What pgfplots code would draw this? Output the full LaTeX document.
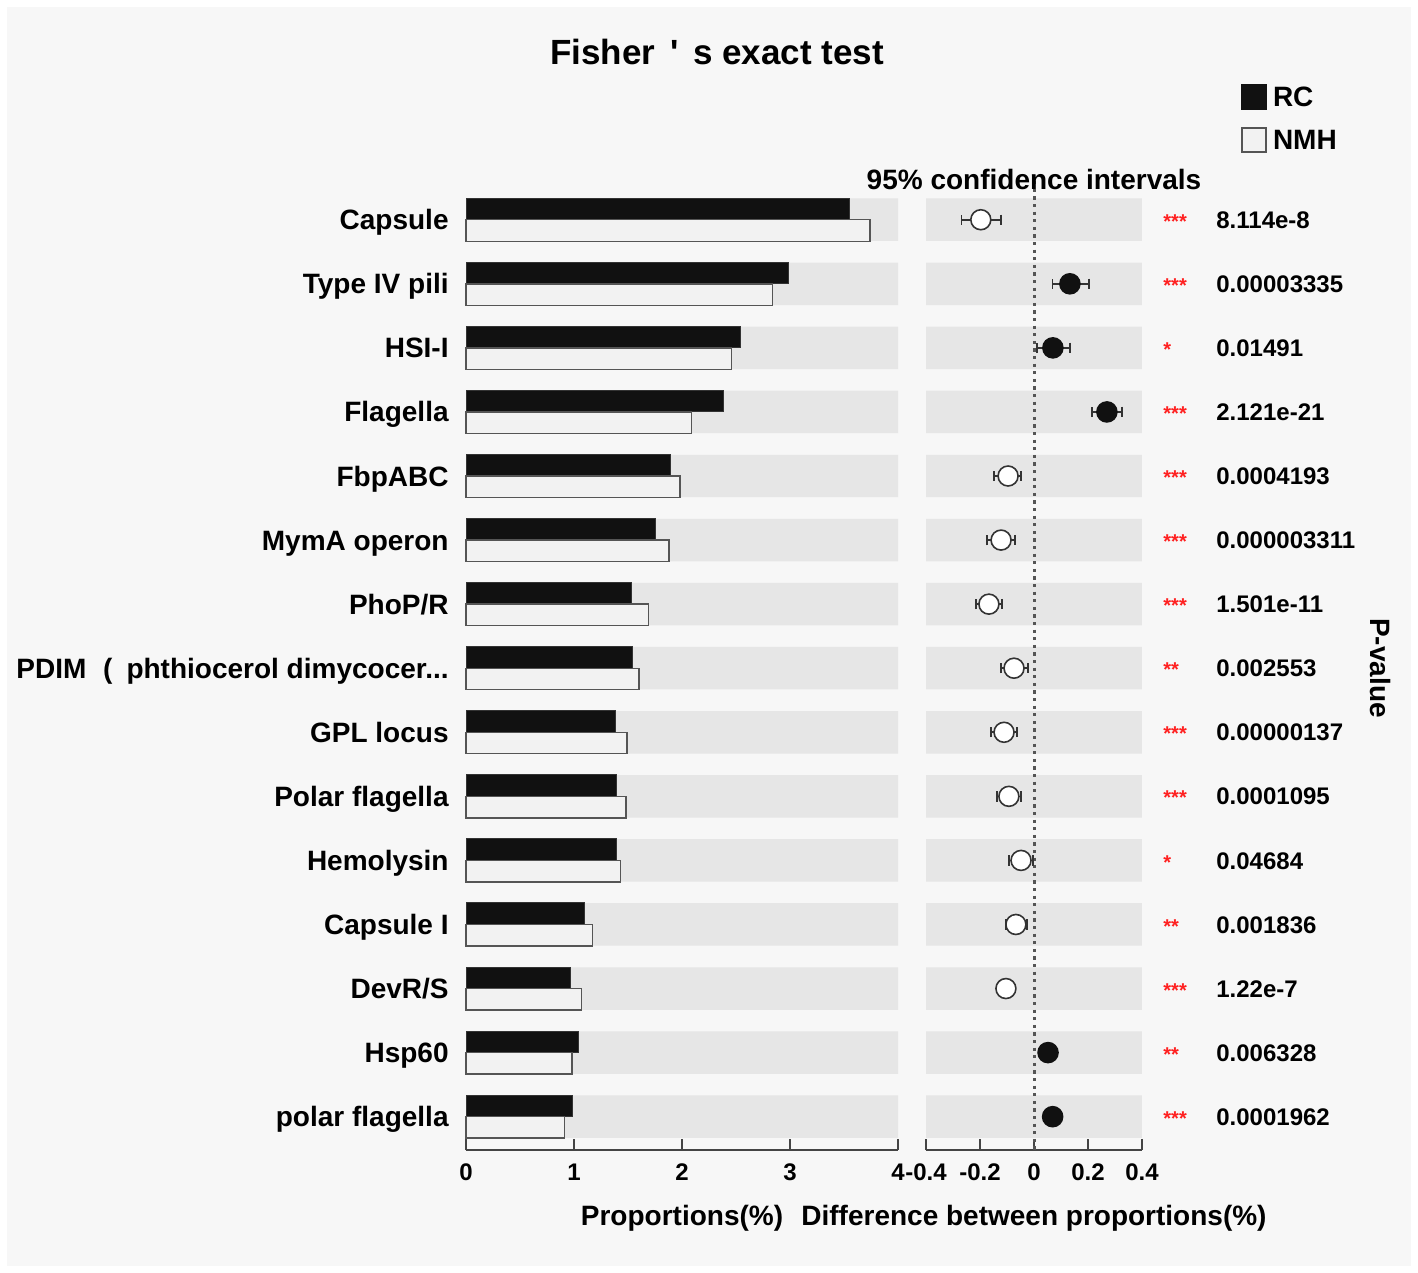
\documentclass[border=0pt]{standalone}
\usepackage{pgfplots}
\pgfplotsset{compat=1.18}
\usepackage{fontspec}
\setmainfont{Liberation Sans}

\definecolor{bggray}{HTML}{F7F7F7}
\definecolor{band}{HTML}{E6E6E6}
\definecolor{rcfill}{HTML}{111111}
\definecolor{nmhfill}{HTML}{F2F2F2}
\definecolor{nmhdraw}{HTML}{555555}
\definecolor{axisgray}{HTML}{444444}
\definecolor{markdraw}{HTML}{333333}
\definecolor{starred}{HTML}{FF2020}

\newcommand{\lab}{\fontsize{14bp}{16bp}\selectfont\bfseries}
\newcommand{\tik}{\fontsize{12bp}{14bp}\selectfont\bfseries}
\newcommand{\ttl}{\fontsize{17.5bp}{20bp}\selectfont\bfseries}
\newcommand{\dotsx}{.\kern0pt.\kern0pt.}

\pgfplotsset{
  common/.style={
    anchor=south west, scale only axis, height=484.35bp,
    ymin=-14.52, ymax=0.6,
    axis x line*=bottom, axis y line*=left,
    x axis line style={-, line width=1bp, draw=axisgray},
    y axis line style={draw=none},
    xtick align=inside, major tick length=5.5bp,
    x tick style={line width=0.8bp, draw=axisgray},
    y tick style={draw=none},
    /pgf/number format/assume math mode=true,
    xticklabel style={font=\tik, inner sep=0pt, text height=8.6bp, text depth=0pt, anchor=north, yshift=-6.5bp},
    xlabel style={font=\lab, at={(axis description cs:0.5,0)}, anchor=center, inner sep=0pt, text height=10bp, text depth=0pt, yshift=-32.5bp},
    clip=false,
  },
  ci/.style={only marks, mark=*, mark size=5bp,
    error bars/.cd, x dir=both, x explicit, error mark=|,
    error bar style={line width=0.8bp, color=markdraw},
    error mark options={line width=0.8bp, mark size=2.6bp, draw=markdraw},
    /pgfplots/.cd},
}

\begin{document}
\begin{tikzpicture}
\fill[white] (0,0) rectangle (709bp,636.5bp);
\fill[bggray] (3.5bp,3.5bp) rectangle (705.5bp,633bp);

% proportions
\begin{axis}[common,
  at={(233bp,61.5bp)}, width=216bp,
  xmin=0, xmax=4, xtick={0,1,2,3,4},
  ytick={-14,-13,-12,-11,-10,-9,-8,-7,-6,-5,-4,-3,-2,-1,0},
  yticklabels={polar flagella, Hsp60, DevR/S, Capsule I, Hemolysin, Polar flagella, GPL locus,
    {PDIM\hspace{0.6em}(\hspace{0.5em}phthiocerol dimycocer\dotsx}, PhoP/R, MymA operon, FbpABC, Flagella, HSI-I, Type IV pili, Capsule},
  yticklabel style={font=\lab, inner sep=0pt, text height=10bp, text depth=0pt, anchor=east, xshift=-8.5bp},
  xlabel={Proportions(\%)},
]
\addplot[xbar, bar width=0.663, bar shift=0, fill=band, draw=none] coordinates {
  (4,0) (4,-1) (4,-2) (4,-3) (4,-4) (4,-5) (4,-6) (4,-7) (4,-8) (4,-9) (4,-10) (4,-11) (4,-12) (4,-13) (4,-14)};
% RC
\addplot[xbar, bar width=0.335, bar shift=0.168, fill=rcfill, draw=markdraw, line width=0.5bp] coordinates {
  (3.55,0) (2.99,-1) (2.54,-2) (2.38,-3) (1.89,-4) (1.75,-5) (1.53,-6) (1.54,-7)
  (1.38,-8) (1.39,-9) (1.39,-10) (1.10,-11) (0.97,-12) (1.04,-13) (0.99,-14)};
% NMH
\addplot[xbar, bar width=0.335, bar shift=-0.168, fill=nmhfill, draw=nmhdraw, line width=0.7bp] coordinates {
  (3.74,0) (2.84,-1) (2.46,-2) (2.09,-3) (1.98,-4) (1.88,-5) (1.69,-6) (1.60,-7)
  (1.49,-8) (1.48,-9) (1.43,-10) (1.17,-11) (1.07,-12) (0.98,-13) (0.91,-14)};
\end{axis}

% differences
\begin{axis}[common,
  at={(463bp,61.5bp)}, width=108bp,
  xmin=-0.4, xmax=0.4, xtick={-0.4,-0.2,0,0.2,0.4},
  ytick=\empty,
  xlabel={Difference between proportions(\%)},
]
\addplot[xbar, bar width=0.663, bar shift=0, fill=band, draw=none] coordinates {
  (0.4,0) (0.4,-1) (0.4,-2) (0.4,-3) (0.4,-4) (0.4,-5) (0.4,-6) (0.4,-7) (0.4,-8) (0.4,-9) (0.4,-10) (0.4,-11) (0.4,-12) (0.4,-13) (0.4,-14)};
\addplot[xbar, bar width=0.663, bar shift=0, fill=band, draw=none] coordinates {
  (-0.4,0) (-0.4,-1) (-0.4,-2) (-0.4,-3) (-0.4,-4) (-0.4,-5) (-0.4,-6) (-0.4,-7) (-0.4,-8) (-0.4,-9) (-0.4,-10) (-0.4,-11) (-0.4,-12) (-0.4,-13) (-0.4,-14)};
\addplot[draw=nmhdraw, line width=1.5bp, dash pattern=on 1.6bp off 2.2bp] coordinates {(0,0.6) (0,-14.52)};
% NMH higher (open)
\addplot[mark options={fill=white, draw=markdraw, line width=0.8bp}, ci]
  table[x=x, y=y, x error plus=ep, x error minus=em] {
x y ep em
-0.197 0 0.074 0.071
-0.096 -4 0.048 0.052
-0.122 -5 0.052 0.052
-0.167 -6 0.048 0.048
-0.074 -7 0.051 0.048
-0.111 -8 0.047 0.049
-0.093 -9 0.045 0.044
-0.048 -10 0.044 0.045
-0.067 -11 0.041 0.037
-0.104 -12 0.030 0.030
};
% RC higher (filled)
\addplot[mark options={fill=rcfill, draw=rcfill, line width=0.8bp}, ci]
  table[x=x, y=y, x error plus=ep, x error minus=em] {
x y ep em
0.133 -1 0.071 0.064
0.070 -2 0.063 0.059
0.270 -3 0.056 0.055
0.052 -13 0.030 0.030
0.069 -14 0.029 0.029
};
% significance stars
\addplot[draw=none, mark=none, nodes near coords, point meta=explicit symbolic,
  nodes near coords style={anchor=west, inner sep=0pt, text height=8.6bp, text depth=0pt,
    font=\fontsize{10bp}{12bp}\selectfont\bfseries, text=starred}]
  table[x=x, y=y, meta=s] {
x y s
0.478 0 ***
0.478 -1 ***
0.478 -2 *
0.478 -3 ***
0.478 -4 ***
0.478 -5 ***
0.478 -6 ***
0.478 -7 **
0.478 -8 ***
0.478 -9 ***
0.478 -10 *
0.478 -11 **
0.478 -12 ***
0.478 -13 **
0.478 -14 ***
};
% p-values
\addplot[draw=none, mark=none, nodes near coords, point meta=explicit symbolic,
  nodes near coords style={anchor=west, inner sep=0pt, text height=8.6bp, text depth=0pt, font=\tik, text=black}]
  table[x=x, y=y, meta=p] {
x y p
0.674 0 8.114e-8
0.674 -1 0.00003335
0.674 -2 0.01491
0.674 -3 2.121e-21
0.674 -4 0.0004193
0.674 -5 0.000003311
0.674 -6 1.501e-11
0.674 -7 0.002553
0.674 -8 0.00000137
0.674 -9 0.0001095
0.674 -10 0.04684
0.674 -11 0.001836
0.674 -12 1.22e-7
0.674 -13 0.006328
0.674 -14 0.0001962
};
\end{axis}

% title, headers, legend
\node[font=\ttl, inner sep=0pt, text height=12.5bp, text depth=0pt] at (358.5bp,610.5bp)
  {Fisher\hspace{0.45em}\textquotesingle\hspace{0.4em}s exact test};
\node[font=\lab, inner sep=0pt, text height=10bp, text depth=0pt] at (517bp,546.5bp) {95\% confidence intervals};
\node[font=\lab, inner sep=0pt, text height=10bp, text depth=0pt, rotate=-90] at (690bp,302.5bp) {P-value};
\fill[rcfill] (620.5bp,581.5bp) rectangle (633.5bp,594.5bp);
\filldraw[fill=nmhfill, draw=nmhdraw, line width=0.8bp] (620.9bp,560.4bp) rectangle (633.1bp,572.6bp);
\node[font=\lab, inner sep=0pt, text height=10bp, text depth=0pt, anchor=west] at (636.3bp,588bp) {RC};
\node[font=\lab, inner sep=0pt, text height=10bp, text depth=0pt, anchor=west] at (636.3bp,566.5bp) {NMH};

\pgfresetboundingbox
\useasboundingbox (0,0) rectangle (709bp,636.5bp);
\end{tikzpicture}
\end{document}
